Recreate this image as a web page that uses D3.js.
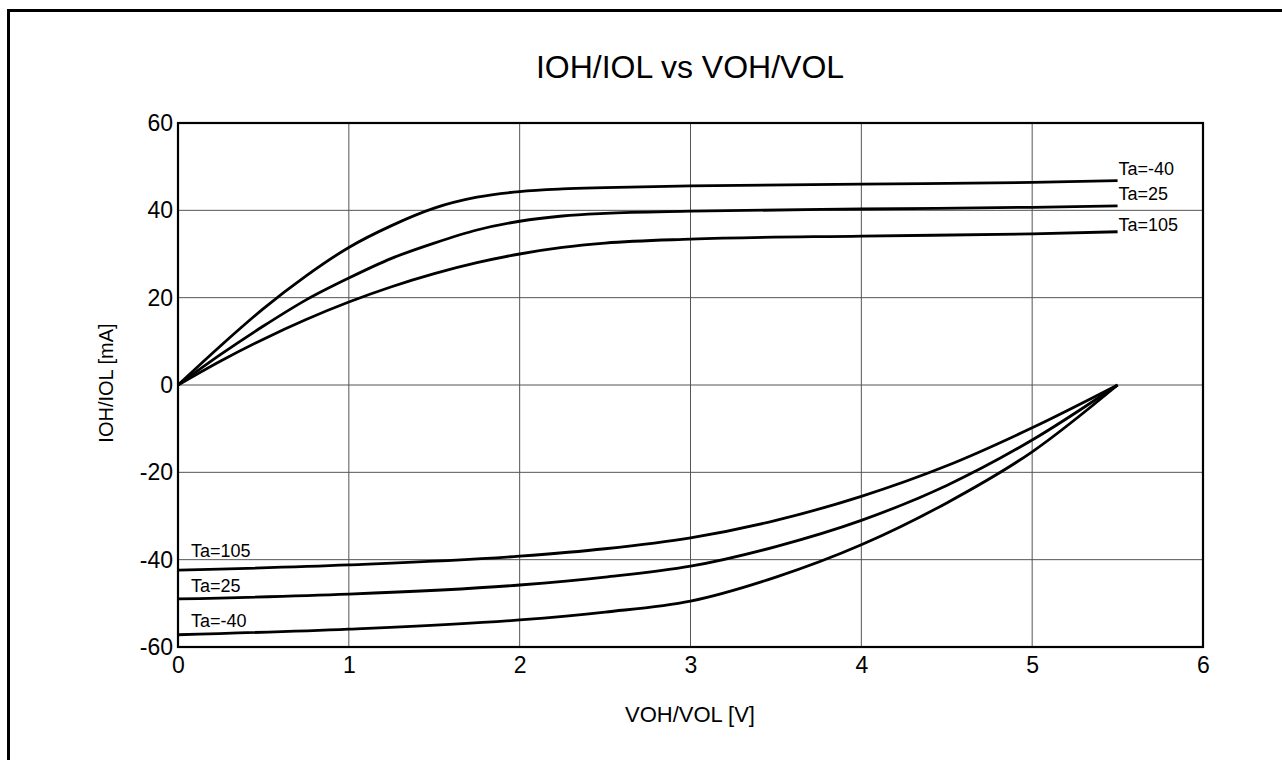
<!DOCTYPE html>
<html>
<head>
<meta charset="utf-8">
<script src="https://cdn.jsdelivr.net/npm/d3@7"></script>
<style>
  html, body { margin: 0; padding: 0; background: #fff; }
  svg { display: block; font-family: "Liberation Sans", Arial, sans-serif; }
</style>
</head>
<body>
<svg id="chart" width="1282" height="760"></svg>
<script>
// ---- data ----
const title = "IOH/IOL vs VOH/VOL";
const xLabel = "VOH/VOL [V]";
const yLabel = "IOH/IOL [mA]";
const xTicks = [0, 1, 2, 3, 4, 5, 6];
const yTicks = [-60, -40, -20, 0, 20, 40, 60];

const ohX = [0, 0.25, 0.5, 0.75, 1, 1.25, 1.5, 1.75, 2, 2.25, 2.5, 3, 4, 5, 5.5];
const ohM40 = [0, 9, 17.5, 25, 31.5, 36.5, 40.5, 43, 44.3, 44.9, 45.2, 45.6, 46, 46.4, 46.8];
const oh25  = [0, 7, 13.5, 19.5, 24.5, 29, 32.5, 35.5, 37.5, 38.7, 39.3, 39.8, 40.3, 40.7, 41];
const oh105 = [0, 5.5, 10.5, 15, 19, 22.5, 25.5, 28, 30, 31.5, 32.5, 33.4, 34.1, 34.6, 35.1];

const olX = [0, 1, 2, 2.5, 3, 3.5, 4, 4.5, 5, 5.5];
const olM40 = [-57.2, -55.9, -53.8, -52, -49.5, -44, -36.6, -27, -15.3, 0];
const ol25  = [-49, -47.9, -45.8, -44, -41.5, -37, -31, -23, -12.6, 0];
const ol105 = [-42.4, -41.2, -39.2, -37.5, -35, -31, -25.5, -18.5, -9.8, 0];

const seriesNames = ["Ta=-40", "Ta=25", "Ta=105"];

// ---- layout ----
const svg = d3.select("#chart");
const pL = 178, pR = 1203, pT = 123, pB = 647;
const x = d3.scaleLinear().domain([0, 6]).range([pL, pR]);
const y = d3.scaleLinear().domain([-60, 60]).range([pB, pT]);
const FONT = "Liberation Sans, Arial, sans-serif";

// outer frame (cut off at right/bottom)
svg.append("rect").attr("x", 8.5).attr("y", 10.5).attr("width", 1300).attr("height", 800)
  .attr("fill", "none").attr("stroke", "#000").attr("stroke-width", 3);

// title
svg.append("text").attr("x", 690).attr("y", 78).attr("text-anchor", "middle")
  .attr("font-size", 32).attr("fill", "#000").text(title);

// grid
const g = svg.append("g");
g.selectAll("line.vg").data(xTicks.slice(1, -1)).enter().append("line")
  .attr("x1", d => x(d)).attr("x2", d => x(d)).attr("y1", pT).attr("y2", pB)
  .attr("stroke", "#555").attr("stroke-width", 1);
g.selectAll("line.hg").data(yTicks.slice(1, -1)).enter().append("line")
  .attr("y1", d => y(d)).attr("y2", d => y(d)).attr("x1", pL).attr("x2", pR)
  .attr("stroke", "#555").attr("stroke-width", 1);

// plot border
svg.append("rect").attr("x", pL).attr("y", pT).attr("width", pR - pL).attr("height", pB - pT)
  .attr("fill", "none").attr("stroke", "#000").attr("stroke-width", 2.2);

const fmt = d => String(d); // hyphen-minus like the reference

const xAxis = d3.axisBottom(x).tickValues(xTicks).tickSize(0).tickPadding(10).tickFormat(fmt);
const xa = svg.append("g").attr("transform", `translate(0,${pB})`).call(xAxis);
xa.select(".domain").remove();
xa.selectAll("text").attr("font-size", 23).attr("font-family", FONT).attr("fill", "#000");

const yAxis = d3.axisLeft(y).tickValues(yTicks).tickSize(0).tickPadding(5).tickFormat(fmt);
const ya = svg.append("g").attr("transform", `translate(${pL},0)`).call(yAxis);
ya.select(".domain").remove();
ya.selectAll("text").attr("font-size", 23).attr("font-family", FONT).attr("fill", "#000");

// axis titles
svg.append("text").attr("x", 690).attr("y", 722).attr("text-anchor", "middle")
  .attr("font-size", 22).text(xLabel);
svg.append("text").attr("transform", `translate(113,383) rotate(-90)`).attr("text-anchor", "middle")
  .attr("font-size", 20).text(yLabel);

// curves
const line = d3.line().x(d => x(d[0])).y(d => y(d[1])).curve(d3.curveMonotoneX);
const ohSeries = [ohM40, oh25, oh105];
const olSeries = [olM40, ol25, ol105];
ohSeries.forEach(s => {
  svg.append("path").attr("d", line(ohX.map((v, i) => [v, s[i]])))
    .attr("fill", "none").attr("stroke", "#000").attr("stroke-width", 2.8);
});
olSeries.forEach(s => {
  svg.append("path").attr("d", line(olX.map((v, i) => [v, s[i]])))
    .attr("fill", "none").attr("stroke", "#000").attr("stroke-width", 2.8);
});

// series labels
const rightOff = [-6, -6, -1];
ohSeries.forEach((s, i) => {
  svg.append("text").attr("x", x(ohX[ohX.length - 1]) + 1).attr("y", y(s[s.length - 1]) + rightOff[i])
    .attr("font-size", 18).text(seriesNames[i]);
});
const leftOff = [-8, -7, -13];
olSeries.forEach((s, i) => {
  svg.append("text").attr("x", x(olX[0]) + 13).attr("y", y(s[0]) + leftOff[i])
    .attr("font-size", 18).text(seriesNames[i]);
});
</script>
</body>
</html>
